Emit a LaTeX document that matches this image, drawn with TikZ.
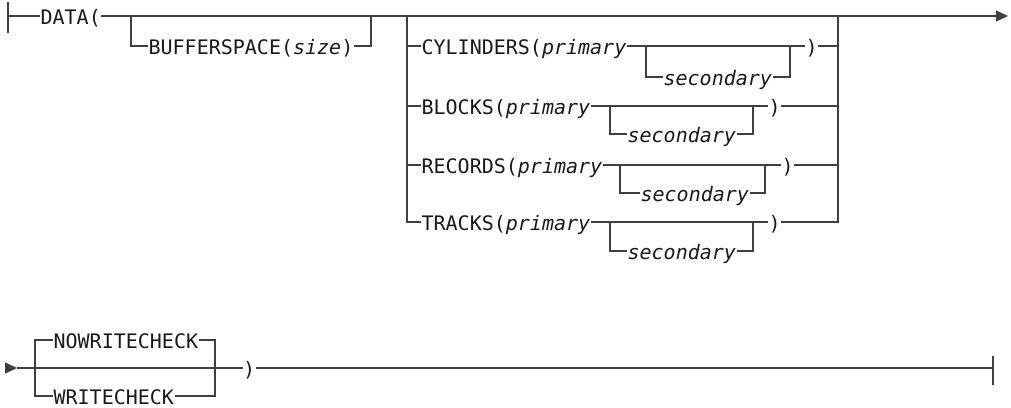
\documentclass[tikz,border=0pt]{standalone}
\usepackage{fontspec}
\setmonofont{DejaVu Sans Mono}
\usetikzlibrary{arrows.meta}

\begin{document}
\begin{tikzpicture}
		[x=1pt,y=-1pt,line width=1.2pt,
		%Styles
		rail/.style={draw=railcolor},
		keyword/.style={anchor=west,inner sep=0pt,text height=17pt,text depth=1pt,
			font=\ttfamily\fontsize{20}{24}\selectfont,text=textcolor},
		arrow end/.style={-{Triangle[length=12pt 0 0,width=11pt 0 0]}},
		end bar/.style={draw=railcolor,line width=1.5pt}
		]
		
		%Colors
		\colorlet{railcolor}{black!75}	%lines and corners
		\colorlet{textcolor}{black!90}
		
		\useasboundingbox (0,0) rectangle (1011,407);
		
		%First line
		\draw[end bar] (8,2) -- (8,33);
		\coordinate (B0) at (8,16);
		\node[keyword] (DATA) at (40,16) {DATA(};
		\coordinate (E0) at (1008,16);
		\draw[rail] (B0) -- (DATA.west);
		\draw[rail,arrow end] (DATA.east) -- (E0);
		
		\coordinate (J0) at (131,16);
		\coordinate (J1) at (371,16);
		\node[keyword] (BUF) at (148,46) {BUFFERSPACE(\textit{size})};
		\draw[rail] (J0) |- (BUF.west);
		\draw[rail] (BUF.east) -| (J1);
		
		\coordinate (G0) at (407,16);
		\coordinate (G1) at (838,16);
		
		%CYLINDERS
		\node[keyword] (CYL) at (421,46) {CYLINDERS(\textit{primary}};
		\node[keyword] (CYLsec) at (663,77) {\textit{secondary}};
		\node[keyword] (CYLc) at (805,46) {)};
		\coordinate (CYLs) at (646,46);
		\coordinate (CYLt) at (790,46);
		\draw[rail] (G0) |- (CYL.west);
		\draw[rail] (CYL.east) -- (CYLc.west);
		\draw[rail] (CYLs) |- (CYLsec.west);
		\draw[rail] (CYLsec.east) -| (CYLt);
		\draw[rail] (CYLc.east) -| (G1);
		
		%BLOCKS
		\node[keyword] (BLK) at (421,106) {BLOCKS(\textit{primary}};
		\node[keyword] (BLKsec) at (627,134) {\textit{secondary}};
		\node[keyword] (BLKc) at (768,106) {)};
		\coordinate (BLKs) at (610,106);
		\coordinate (BLKt) at (753,106);
		\draw[rail] (G0) |- (BLK.west);
		\draw[rail] (BLK.east) -- (BLKc.west);
		\draw[rail] (BLKs) |- (BLKsec.west);
		\draw[rail] (BLKsec.east) -| (BLKt);
		\draw[rail] (BLKc.east) -| (G1);
		
		%RECORDS
		\node[keyword] (REC) at (421,165) {RECORDS(\textit{primary}};
		\node[keyword] (RECsec) at (640,193) {\textit{secondary}};
		\node[keyword] (RECc) at (781,165) {)};
		\coordinate (RECs) at (620,165);
		\coordinate (RECt) at (765,165);
		\draw[rail] (G0) |- (REC.west);
		\draw[rail] (REC.east) -- (RECc.west);
		\draw[rail] (RECs) |- (RECsec.west);
		\draw[rail] (RECsec.east) -| (RECt);
		\draw[rail] (RECc.east) -| (G1);
		
		%TRACKS
		\node[keyword] (TRK) at (421,222) {TRACKS(\textit{primary}};
		\node[keyword] (TRKsec) at (627,251) {\textit{secondary}};
		\node[keyword] (TRKc) at (768,222) {)};
		\coordinate (TRKs) at (610,222);
		\coordinate (TRKt) at (753,222);
		\draw[rail] (G0) |- (TRK.west);
		\draw[rail] (TRK.east) -- (TRKc.west);
		\draw[rail] (TRKs) |- (TRKsec.west);
		\draw[rail] (TRKsec.east) -| (TRKt);
		\draw[rail] (TRKc.east) -| (G1);
		
		%Second line
		\coordinate (A0) at (5,368);
		\coordinate (A1) at (17,368);
		\draw[rail,arrow end] (A0) -- (A1);
		
		\coordinate (L0) at (35,368);
		\coordinate (L1) at (215,368);
		\node[keyword] (NOW) at (53,340) {NOWRITECHECK};
		\node[keyword] (WRC) at (53,396) {WRITECHECK};
		\draw[rail] (L0) |- (NOW.west);
		\draw[rail] (L0) |- (WRC.west);
		\draw[rail] (NOW.east) -| (L1);
		\draw[rail] (WRC.east) -| (L1);
		
		\node[keyword] (CLOSE) at (242.5,368) {)};
		\coordinate (E1) at (993,368);
		\draw[rail] (A1) -- (CLOSE.west);
		\draw[rail] (CLOSE.east) -- (E1);
		\draw[end bar] (993,356) -- (993,385);
	\end{tikzpicture}
\end{document}
